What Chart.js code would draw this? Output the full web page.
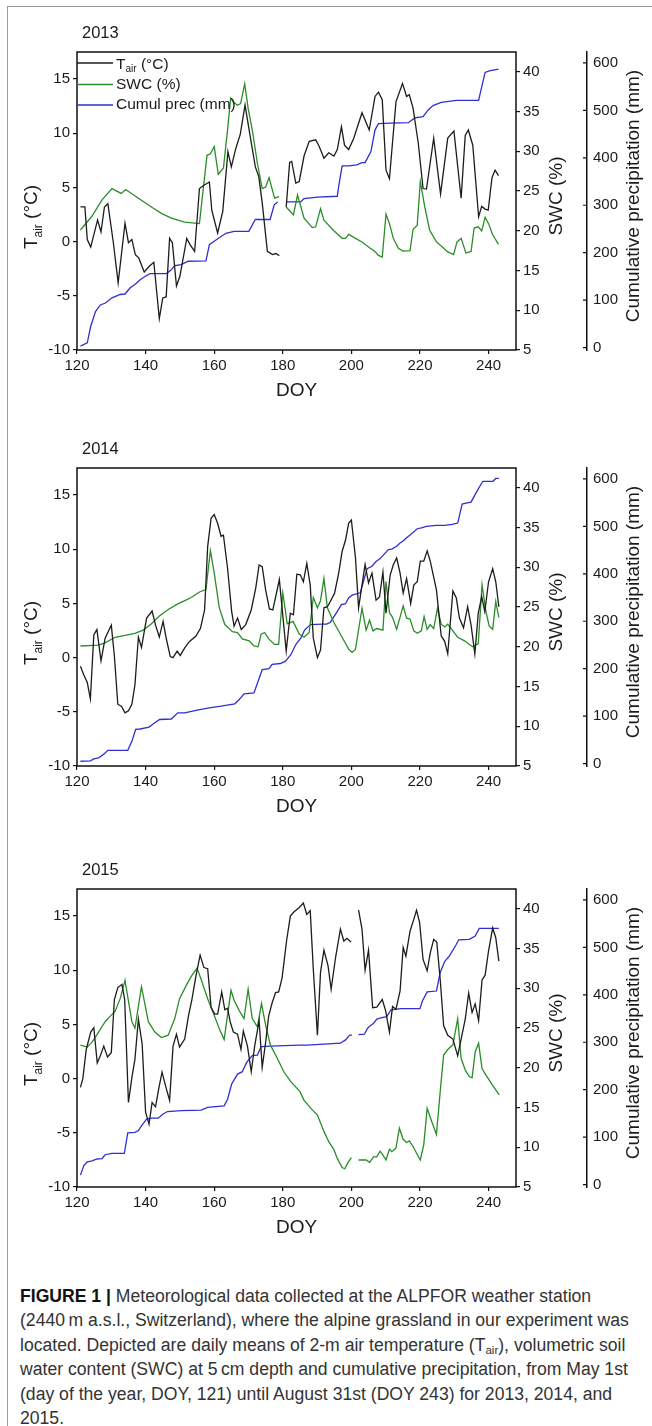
<!DOCTYPE html>
<html>
<head>
<meta charset="utf-8">
<script src="https://cdn.jsdelivr.net/npm/chart.js@4.4.0/dist/chart.umd.min.js"></script>
<style>
html, body { margin: 0; padding: 0; background: #fff; }
#page { position: relative; width: 652px; height: 1426px; overflow: hidden; background: #fff; }
#frame { position: absolute; left: 7px; top: 6px; width: 700px; height: 1500px;
  border-left: 1.5px solid #9c9c9c; border-top: 1.5px solid #9c9c9c; }
.panel { position: absolute; left: 0; width: 652px; height: 408px; }
#caption { position: absolute; left: 20px; top: 1284px; white-space: nowrap;
  font-family: "Liberation Sans Narrow", "Liberation Sans", Arial, sans-serif;
  font-size: 17.6px; line-height: 24.4px; color: #333; }
#caption b { color: #111; }
#caption sub { font-size: 11.5px; vertical-align: -3px; line-height: 0; }
</style>
</head>
<body>
<div id="page">
  <div id="frame"></div>
  <div class="panel" style="top:12px"><canvas id="c2013" width="652" height="408"></canvas></div>
  <div class="panel" style="top:428px"><canvas id="c2014" width="652" height="408"></canvas></div>
  <div class="panel" style="top:849px"><canvas id="c2015" width="652" height="408"></canvas></div>
  <div id="caption"><b>FIGURE 1 |</b> Meteorological data collected at the ALPFOR weather station<br>(2440&#8201;m a.s.l., Switzerland), where the alpine grassland in our experiment was<br>located. Depicted are daily means of 2-m air temperature (T<sub>air</sub>), volumetric soil<br>water content (SWC) at 5&#8201;cm depth and cumulative precipitation, from May 1st<br>(day of the year, DOY, 121) until August 31st (DOY 243) for 2013, 2014, and<br>2015.</div>
</div>
<script>
// ---- 2013 ----
const tair2013Doy = [121,122.3,123,124,126,127,128,129,130.6,132,134,135,136,137,138,139.6,141,142.4,144,145,146,147,147.8,149,150,152,153,154.3,155.7,157,158.6,159.3,161,162.5,164,165,166.3,167.6,169,170.4,172,173,174,175.5,177,178,179,180,181,182,182.6,183.8,184.8,186.2,187.7,189.6,190.6,192,193.4,194.9,195.9,197.1,198,199.2,200.7,203.1,205.2,206.9,207.9,209,210.1,211.1,213,214.9,216.1,216.9,218,219.5,220.9,221.9,224,226,228.1,229.9,232,233.2,234.1,235.4,237.1,238,239,239.9,241,241.9,242.9];
const tair2013 = [3.2,3.2,0.2,-0.5,2.0,0.9,3.2,3.5,-0.1,-3.8,1.7,-0.1,0.2,-1.2,-1.5,-2.8,-2.3,-1.9,-7.1,-5.2,-5.1,0.3,-0.1,-4.1,-3.2,0.3,-0.3,-0.9,4.9,5.2,5.5,2.9,0.8,2.8,8.3,6.9,8.6,9.9,12.6,9.9,6.9,6.0,3.6,-0.9,-1.2,-1.1,-1.3,null,3.2,7.3,7.4,5.4,5.55,7.9,9.25,9.4,8.8,7.7,8.2,7.9,8.5,10.6,8.9,8.5,9.55,11.9,10.3,13.4,13.8,13.1,6.6,5.8,12.9,14.6,13.4,13.55,12.3,9.1,4.9,4.85,9.55,4.4,9.55,10.2,4.0,9.8,10.3,8.9,2.3,3.25,3.0,2.9,5.9,6.6,6.1];
const swc2013Doy = [121,124.3,127.3,130.2,132.9,134.2,137.9,141.7,144.6,147.5,151.4,155.7,157.9,158.9,160,161.2,162.7,163.9,164.8,165.6,166.8,167.7,168.9,169.9,171.1,172.6,174,175,176,177.6,178.9,180,181,183.1,184.3,186.2,188.6,189.6,191,192,194.9,197.3,198.3,199.2,201.2,203.1,205.5,206.9,207.9,209,210.1,211.1,212.2,213.7,215.1,217.1,218,219.2,220.1,221.4,222.8,224.8,226.7,228.1,229.8,230.8,232,233.4,234.9,235.8,237,238,239,240,241.2,242.9];
const swc2013 = [20.1,21.8,23.9,25.3,24.7,25.2,24.1,23.0,22.2,21.6,21.1,20.9,29.5,29.7,30.6,27.1,27.9,32.7,36.7,36.2,35.8,36.0,38.5,35.4,32.7,28.5,25.3,25.5,26.7,24.1,24.3,null,23.0,22.0,24.5,21.6,20.4,20.5,22.8,21.35,20.0,19.05,19.05,19.55,19.05,18.6,17.8,17.4,16.9,16.7,22.1,20.9,19.1,17.8,17.45,17.5,20.2,20.7,26.2,23.0,20.1,18.6,17.9,17.35,17.0,18.6,19.05,17.2,17.4,20.35,20.5,20.0,21.7,20.9,19.5,18.3];
const prec2013Doy = [121,123,124,125.4,126.8,128.3,130.2,132.6,134,135.5,136.9,138.4,139.8,141.3,146.1,147.5,148.5,150.4,152.4,157.6,158.6,160,162,163.4,165.8,170.1,172,176.3,177.5,178.5,180,181.2,185.2,186.2,190.1,195.9,196.3,197.3,199.2,201.6,203.1,204,205.7,206.9,207.9,211.3,216.6,218.5,220.9,222.4,223.8,226.2,230.6,237.1,237.8,239,240.2,242.9];
const prec2013 = [3,10,45,76,90,94,105,112,113,126,133,143,150,156,156,164,173,175,182,183,217,224,234,241,245,245,270,270,301,307,null,307,307,314,317,319,340,383,383,385,390,390,413,459,472,473,474,484,487,501,510,517,521,521,543,580,583,587];

// ---- 2014 ----
const tair2014Doy = [121,122,123,123.9,124.9,125.8,127,128.2,130,130.9,131.9,133,134,135,136,136.9,137.9,138.8,140.3,141.9,142.9,144,145.1,146.1,147.2,148,149.2,150.1,151.4,152.8,154.7,156,157.2,158.1,159.1,160,161,162,162.7,163.9,165.1,165.8,166.8,167.9,169.2,170.8,172.1,173.1,174,175,176.1,177.1,179,181,182.2,183.1,184.1,185.1,186,187,188,188.9,190.1,191,192,193,193.9,195.1,196.3,197.3,198.3,199.2,200,201.2,202.1,203.1,204,205,206,207.2,208.2,209.2,210.1,211.3,212.2,213.2,214.2,215.1,216.1,217.3,218.2,219.2,220.1,221.1,222.1,223,224.8,226.2,227.2,228.1,229.6,230.6,231.5,232.7,233.9,234.9,236,237,238,238.9,240,241.2,242.1,243];
const tair2014 = [-0.8,-1.6,-2.3,-3.8,2.1,2.6,-0.3,1.8,3.0,0.15,-4.3,-4.5,-5.1,-4.9,-4.3,-2.5,1.9,0.95,3.65,4.3,3.0,1.9,3.35,1.65,0.1,0,0.6,0.2,0.9,1.5,2.0,2.7,4.4,10.25,12.85,13.2,12.4,11.2,11.3,8.25,4.25,2.9,3.65,2.6,3.05,4.4,6.4,8.55,8.4,6.25,4.5,4.4,7.2,0.6,4.1,3.95,7.7,7.65,7.0,8.7,6.7,1.8,0.0,0.7,4.6,4.7,5.2,5.95,7.8,9.8,10.85,12.4,12.7,9.2,4.6,6.7,8.6,6.9,7.8,5.3,5.6,7.9,4.1,7.6,8.55,9.2,7.8,5.95,7.3,5.0,6.7,7.0,8.9,8.9,9.85,8.9,6.25,2.0,1.5,0.35,6.15,5.5,3.65,2.75,4.7,3.0,0.35,4.1,5.65,4.25,7.0,8.2,7.0,4.7];
const swc2014Doy = [121,126.3,128.2,131.1,136.9,139.3,141.7,144.1,146.6,149.4,151.9,153.3,155.7,157.6,158.9,160,161.5,163.1,165.3,166.8,168.2,170.2,171.6,172.8,173.7,174.7,175.9,177.6,178.8,180,181.3,183,184.8,186.2,187.7,188.9,190.1,191,192,193,194.9,197.3,199.2,200.2,201.2,203.1,204.3,205.3,206.3,207.4,209.2,210.1,211.1,212,213.2,215.1,216.1,217.1,218.2,219.2,220.4,221.2,222.1,223,224,225.1,226.2,227.2,228.1,229.6,231,233,234.4,235.4,237,238.1,239.2,240.2,241.2,242.1,243];
const swc2014 = [20.1,20.2,20.5,21.2,21.7,22.1,22.9,23.9,24.7,25.4,25.9,26.2,26.9,27.2,32.1,29.3,24.9,22.8,21.9,21.8,21.0,20.75,20.1,20.0,21.6,21.8,21.0,20.3,20.3,26.8,22.9,23.2,21.6,21.2,21.8,26.2,24.9,25.8,28.6,24.9,23.05,21.2,19.7,19.3,19.7,24.85,22.1,23.35,22.0,22.3,22.1,28.2,24.3,23.7,22.2,25.15,23.6,23.5,22.0,21.7,22.0,23.8,22.2,22.8,22.3,24.85,22.85,22.5,22.85,22.0,21.2,20.75,20.3,20.0,20.4,27.8,24.5,22.6,22.2,25.7,23.7];
const prec2014Doy = [121,123.9,124.9,126.3,127.8,129,134.8,136,137.1,138.4,141,142.7,144.1,147.5,149.4,151.4,154.7,158.1,162,166,167.3,168.7,171.6,174,176,176.9,179.3,180.8,182.4,183.8,185.3,186.4,188.1,191.5,192.8,193.9,195.9,197.1,198.3,199.2,200.2,202.6,203.6,204.6,206,207.2,208.4,209.5,210.8,211.8,213.2,214.2,215.1,216.1,217.3,219.2,220.4,221.9,224.8,227.2,229.4,231,232.3,233.4,234.9,236.3,238.3,241.3,242.1,243];
const prec2014 = [5,6,10,12,20,28,28,47,72,73,77,86,93,94,107,107,112,117,121,126,135,147,149,198,200,209,211,216,230,251,265,282,293,294,294,298,321,335,337,349,355,360,386,411,416,426,432,441,451,452,458,465,469,476,483,495,497,500,502,502,504,507,547,549,551,570,595,595,601,601];

// ---- 2015 ----
const tair2015Doy = [121,121.7,122.7,124,124.9,125.9,126.8,127.8,128.9,130,130.9,131.9,133.1,133.9,135,136,136.9,137.9,139,140,141,141.9,142.9,143.9,144.8,145.8,147,148,149,149.9,151.4,152.5,153.5,154.7,155.9,157,158.1,159.1,160.2,161,162.2,163.1,163.9,164.7,165.6,166.8,167.8,168.5,169.7,170.8,171.8,173.1,174,175,175.9,176.9,177.9,178.8,179.8,181.1,182.2,183.3,184.8,186,187,188,188.9,190.1,191,192,193.2,194.1,195.4,196.8,197.8,198.7,199.9,201,202.1,203.1,204,205,206.2,207.4,209,210,211.1,212,213,214.2,215.1,215.9,217.1,218.2,219,219.9,220.9,222.1,223,224,224.9,225.9,226.9,228.1,229.6,231,232,233.2,234.2,235.2,236.1,237.1,238.1,239,240,241.2,242.1,243];
const tair2015 = [-0.8,0.0,2.7,4.3,4.7,1.45,2.1,3.0,2.0,2.4,7.3,8.4,8.7,7.3,-2.2,0.1,1.8,5.5,3.2,-3.1,-4.2,-2.2,-2.6,-0.8,0.6,-0.65,-2.0,3.0,4.1,2.9,3.65,5.8,7.3,9.5,11.4,10.25,10.15,6.55,5.95,5.95,8.0,6.35,6.5,5.2,4.3,4.1,2.7,4.4,3.0,0.65,3.0,5.35,1.05,3.35,5.8,7.0,7.95,8.0,9.3,12.7,15.0,15.4,15.8,16.2,15.15,15.5,10.1,4.0,9.8,11.85,10.4,8.25,11.2,13.8,12.7,12.95,12.6,null,15.55,13.8,10.0,11.85,6.55,6.6,7.3,6.25,4.3,6.65,6.4,8.1,12.1,11.3,13.6,14.7,15.55,14.4,11.0,9.95,11.6,12.85,12.6,9.15,4.9,4.0,3.65,2.1,3.65,5.5,7.9,6.1,6.9,5.35,9.1,9.55,11.8,13.9,13.0,10.85];
const swc2015Doy = [121,123,124.5,126.3,128.2,129.7,131.1,132.6,134,135.2,136,136.9,138.8,140.8,142.7,144.6,146.6,148.5,149.9,151.9,153.3,155,156.2,158.1,160,161.5,162.9,164.9,165.8,167.3,168.7,169.9,171.1,172.6,173.8,175,176.4,178.4,180.3,182.3,185,186.2,188.6,190.1,192,193.4,194.9,195.9,197.3,198.1,198.9,200,201,202.1,204.3,205.3,206.5,207.4,208.4,209.2,210.1,211.1,211.8,213,214,215.1,216.1,216.9,218,219,220.1,221.1,222.1,223.3,224.8,225.9,226.9,228.1,229.6,231,232,233.3,234.4,235.2,236.1,237.1,238.1,239.2,241.2,243.1];
const swc2015 = [22.85,22.6,23.3,24.5,25.8,26.5,27.1,28.7,31.0,27.9,25.8,25.0,30.2,25.8,24.5,23.8,24.1,26.2,28.7,30.4,31.5,32.55,31.1,28.7,26.6,24.9,23.55,29.75,28.5,27.2,26.2,29.9,26.2,25.15,28.1,25.35,22.85,21.2,19.5,18.3,17.0,15.9,14.7,14.05,12.0,10.7,9.7,8.6,7.45,7.3,8.0,8.7,null,8.4,8.4,8.1,8.8,8.8,9.5,9.0,8.4,9.75,9.45,9.9,12.4,11.0,10.6,10.8,10.1,9.25,8.4,10.3,14.9,13.4,11.6,17.0,21.6,22.3,22.9,26.2,21.2,19.6,18.9,18.75,22.0,23.1,19.9,19.1,17.8,16.6];
const prec2015Doy = [121,122,123,124.4,125.8,127.3,128.2,130.2,133.8,134.8,136.9,137.9,138.8,140.3,141.7,143.7,145.1,146.4,150.4,156.2,158.1,162.9,163.9,165.1,166.8,168.2,169.5,171.1,172.6,173.7,176.4,184.9,187.2,196.8,198.3,199.5,200.2,201,202.1,203.8,204.7,205.5,206.5,207.4,208.9,210.3,211.5,213,214.6,220,220.7,222.1,224.8,225.9,227.2,228.6,230.5,231.3,234.4,236.1,237.3,243];
const prec2015 = [20,40,48,50,54,55,63,66,66,109,110,114,124,138,140,140,149,154,156,157,163,166,180,212,233,238,258,272,273,291,292,294,294,298,305,315,315,null,316,317,329,335,340,349,352,354,368,370,371,371,387,406,408,447,470,482,505,516,517,524,540,540];

// axis ticks
const doyTicks = [120, 140, 160, 180, 200, 220, 240];
const tairTicks = [-10, -5, 0, 5, 10, 15];
const swcTicks = [5, 10, 15, 20, 25, 30, 35, 40];
const precTicks = [0, 100, 200, 300, 400, 500, 600];

const FONT = '"Liberation Sans", Arial, sans-serif';
const BLACK = '#1c1c1c', GREEN = '#2a8d2a', BLUE = '#2f2fd3';

function pts(doy, vals) {
    return doy.map((d, i) => ({x: d, y: vals[i]}));
}

// T + subscript "air" + rest, centred at 0,0 in current transform
function drawTair(ctx, big, small, rest) {
    ctx.font = big + 'px ' + FONT;
    const wT = ctx.measureText('T').width;
    const wR = ctx.measureText(rest).width;
    ctx.font = small + 'px ' + FONT;
    const wA = ctx.measureText('air').width;
    let x = -(wT + wA + wR) / 2;
    const base = big * 0.36;
    ctx.textAlign = 'left';
    ctx.textBaseline = 'alphabetic';
    ctx.font = big + 'px ' + FONT;
    ctx.fillText('T', x, base);
    ctx.font = small + 'px ' + FONT;
    ctx.fillText('air', x + wT, base + big * 0.25);
    ctx.font = big + 'px ' + FONT;
    ctx.fillText(rest, x + wT + wA, base);
}

function rotatedText(ctx, text, x, y, size) {
    ctx.save();
    ctx.translate(x, y);
    ctx.rotate(-Math.PI / 2);
    ctx.font = size + 'px ' + FONT;
    ctx.textAlign = 'center';
    ctx.textBaseline = 'middle';
    ctx.fillText(text, 0, 0);
    ctx.restore();
}

const decor = {
    id: 'decor',
    afterDraw(chart, args, opts) {
        const ctx = chart.ctx;
        const a = chart.chartArea;
        ctx.save();
        ctx.strokeStyle = '#111';
        ctx.lineWidth = 1.5;
        ctx.strokeRect(a.left, a.top, a.right - a.left, a.bottom - a.top);

        // precipitation axis: tick marks point inwards (left of its line)
        const prec = chart.scales.prec;
        ctx.lineWidth = 1.2;
        ctx.beginPath();
        precTicks.forEach(v => {
            const py = prec.getPixelForValue(v);
            ctx.moveTo(prec.left - 4, py);
            ctx.lineTo(prec.left, py);
        });
        ctx.stroke();

        ctx.fillStyle = '#1a1a1a';
        ctx.font = '16.5px ' + FONT;
        ctx.textAlign = 'left';
        ctx.textBaseline = 'middle';
        ctx.fillText(opts.year, 82, a.top - 19);

        ctx.font = '19px ' + FONT;
        ctx.textAlign = 'center';
        ctx.fillText('DOY', (a.left + a.right) / 2, a.bottom + 41);

        ctx.save();
        ctx.translate(30, a.top + 165);
        ctx.rotate(-Math.PI / 2);
        drawTair(ctx, 19, 12, ' (°C)');
        ctx.restore();

        rotatedText(ctx, 'SWC (%)', 557, a.top + 144, 19);
        rotatedText(ctx, 'Cumulative precipitation (mm)', 634, a.top + 144, 19);

        if (opts.legend) {
            const rows = [
                {c: BLACK, y: a.top + 11, tair: true},
                {c: GREEN, y: a.top + 32.5, text: 'SWC (%)'},
                {c: BLUE, y: a.top + 53, text: 'Cumul prec (mm)'}
            ];
            rows.forEach(r => {
                ctx.strokeStyle = r.c;
                ctx.lineWidth = 1.3;
                ctx.beginPath();
                ctx.moveTo(a.left, r.y);
                ctx.lineTo(a.left + 36, r.y);
                ctx.stroke();
                ctx.fillStyle = '#1a1a1a';
                if (r.tair) {
                    ctx.save();
                    ctx.font = '15.5px ' + FONT;
                    const w = ctx.measureText('T').width + ctx.measureText(' (°C)').width;
                    ctx.font = '10px ' + FONT;
                    const wa = ctx.measureText('air').width;
                    ctx.translate(a.left + 39 + (w + wa) / 2, r.y);
                    drawTair(ctx, 15.5, 10, ' (°C)');
                    ctx.restore();
                } else {
                    ctx.font = '15.5px ' + FONT;
                    ctx.textAlign = 'left';
                    ctx.textBaseline = 'middle';
                    ctx.fillText(r.text, a.left + 39, r.y);
                }
            });
        }
        ctx.restore();
    }
};

function axisTicks(values) {
    return scale => { scale.ticks = values.map(v => ({value: v})); };
}

function tickGrid(len) {
    return {drawOnChartArea: false, drawTicks: true, tickLength: len, color: '#111', lineWidth: 1.2};
}

function tickFont(pad) {
    return {color: '#1a1a1a', font: {family: FONT, size: 15}, padding: pad, autoSkip: false, maxRotation: 0};
}

function plot_year(canvas_id, year, tDoy, t, sDoy, s, pDoy, p, legend) {
    const ctx = document.getElementById(canvas_id).getContext('2d');
    return new Chart(ctx, {
        type: 'line',
        data: {
            datasets: [
                {label: 'Tair (°C)', data: pts(tDoy, t), yAxisID: 'y', borderColor: BLACK},
                {label: 'SWC (%)', data: pts(sDoy, s), yAxisID: 'swc', borderColor: GREEN},
                {label: 'Cumul prec (mm)', data: pts(pDoy, p), yAxisID: 'prec', borderColor: BLUE}
            ]
        },
        options: {
            responsive: false,
            animation: false,
            events: [],
            spanGaps: false,
            layout: {padding: {top: 40, left: 0, right: 0, bottom: 0}},
            elements: {
                point: {radius: 0},
                line: {borderWidth: 1.3, tension: 0}
            },
            plugins: {
                legend: {display: false},
                tooltip: {enabled: false},
                decor: {year: year, legend: legend}
            },
            scales: {
                x: {
                    type: 'linear', position: 'bottom', min: 120, max: 248,
                    afterBuildTicks: axisTicks(doyTicks),
                    afterFit: s => { s.height = 70; },
                    border: {display: false},
                    grid: tickGrid(4),
                    ticks: tickFont(3)
                },
                y: {
                    type: 'linear', position: 'left', min: -10, max: 17.5,
                    afterBuildTicks: axisTicks(tairTicks),
                    afterFit: s => { s.width = 77; },
                    border: {display: false},
                    grid: tickGrid(4),
                    ticks: tickFont(3)
                },
                swc: {
                    type: 'linear', position: 'right', weight: 0, min: 5, max: 42.5,
                    afterBuildTicks: axisTicks(swcTicks),
                    afterFit: s => { s.width = 71; },
                    border: {display: false},
                    grid: tickGrid(4),
                    ticks: tickFont(3)
                },
                prec: {
                    type: 'linear', position: 'right', weight: 1, min: -5, max: 623,
                    afterBuildTicks: axisTicks(precTicks),
                    afterFit: s => { s.width = 65; },
                    border: {display: true, color: '#111', width: 1.5},
                    grid: {drawOnChartArea: false, drawTicks: false},
                    ticks: tickFont(6)
                }
            }
        },
        plugins: [decor]
    });
}

plot_year('c2013', '2013', tair2013Doy, tair2013, swc2013Doy, swc2013, prec2013Doy, prec2013, true);
plot_year('c2014', '2014', tair2014Doy, tair2014, swc2014Doy, swc2014, prec2014Doy, prec2014, false);
plot_year('c2015', '2015', tair2015Doy, tair2015, swc2015Doy, swc2015, prec2015Doy, prec2015, false);
</script>
</body>
</html>
